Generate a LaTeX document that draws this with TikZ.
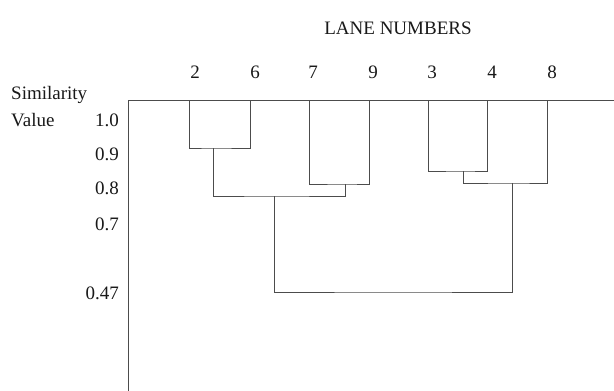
\documentclass[tikz,border=0pt]{standalone}
\usepackage{fontspec}
\setmainfont{Liberation Serif}
\begin{document}
\begin{tikzpicture}[x=1pt,y=-1pt,
  tree/.style={draw=black!70,line width=1pt},
  lbl/.style={inner sep=0pt,text=black!90,font=\fontsize{19}{22}\selectfont}]
\useasboundingbox[fill=white] (0,0) rectangle (614,391);
% title
\node[lbl] (title) at (398,28) {LANE NUMBERS};
% axis labels
\node[lbl,anchor=west] (sim) at (11,95) {Similarity};
\node[lbl,anchor=west] (val) at (11,120) {Value};
\node[lbl,anchor=east] (v10) at (119,120) {1.0};
\node[lbl,anchor=east] (v09) at (119,154) {0.9};
\node[lbl,anchor=east] (v08) at (119,188) {0.8};
\node[lbl,anchor=east] (v07) at (119,224) {0.7};
\node[lbl,anchor=east] (v047) at (119,293) {0.47};
% lane numbers
\node[lbl] (n2) at (195,72) {2};
\node[lbl] (n6) at (255,72) {6};
\node[lbl] (n7) at (313,72) {7};
\node[lbl] (n9) at (373,72) {9};
\node[lbl] (n3) at (432,72) {3};
\node[lbl] (n4) at (492,72) {4};
\node[lbl] (n8) at (552,72) {8};
% frame
\coordinate (corner) at (128,100);
\coordinate (bottom) at (128,391);
\coordinate (right) at (614,100);
\draw[tree] (bottom) -- (corner) -- (right);
% leaves
\coordinate (t2) at (189,100);
\coordinate (t6) at (250,100);
\coordinate (t7) at (309,100);
\coordinate (t9) at (369,100);
\coordinate (t3) at (428,100);
\coordinate (t4) at (487,100);
\coordinate (t8) at (547,100);
% merge points
\coordinate (m26) at (213,148);
\coordinate (m79) at (345,184);
\coordinate (mA) at (274,196);
\coordinate (m34) at (463,171);
\coordinate (mB) at (512,183);
\coordinate (root) at (393,292);
\draw[tree] (t2) |- (m26) -| (t6);
\draw[tree] (t7) |- (m79) -| (t9);
\draw[tree] (m26) |- (mA) -| (m79);
\draw[tree] (t3) |- (m34) -| (t4);
\draw[tree] (m34) |- (mB) -| (t8);
\draw[tree] (mA) |- (root) -| (mB);
\end{tikzpicture}
\end{document}
